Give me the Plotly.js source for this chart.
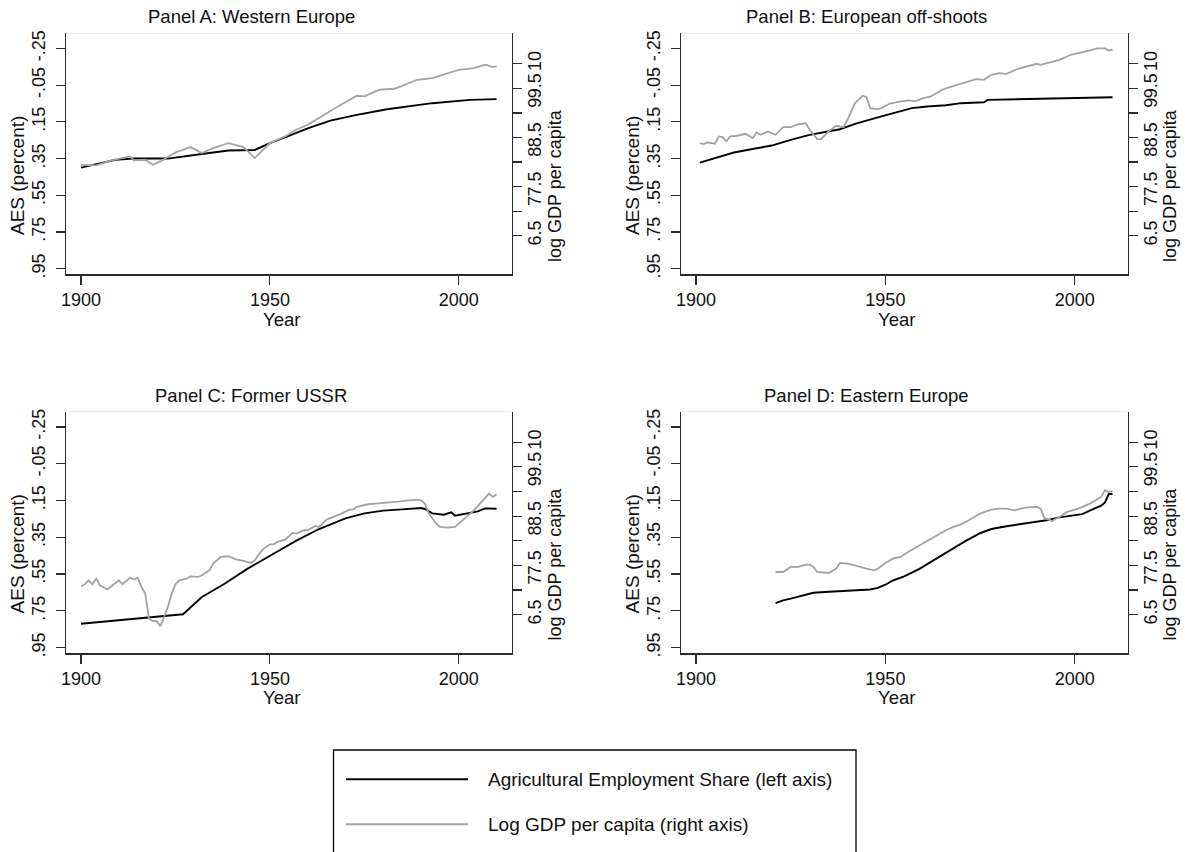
<!DOCTYPE html>
<html><head><meta charset="utf-8">
<script src="https://cdn.plot.ly/plotly-3.0.1.min.js"></script>
<style>html,body{margin:0;padding:0;background:#fff}#chart{width:1185px;height:852px}</style>
</head><body><div id="chart"></div>
<script>
// ---------- data ----------
const panelTitles = ["Panel A: Western Europe","Panel B: European off-shoots","Panel C: Former USSR","Panel D: Eastern Europe"];
const xTickVals = [1900,1950,2000];
const aesTickVals = [-0.25,-0.05,0.15,0.35,0.55,0.75,0.95];
const aesTickText = ["-.25","-.05",".15",".35",".55",".75",".95"];
const gdpTickVals = [6.5,7,7.5,8,8.5,9,9.5,10];
const gdpTickText = ["6.5","7","7.5","8","8.5","9","9.5","10"];
const legendLabels = ["Agricultural Employment Share (left axis)","Log GDP per capita (right axis)"];

// Panel A: Western Europe
const aYearsAES = [1900,1904,1909,1914,1923,1932,1939,1946,1950,1955,1960,1966,1973,1981,1993,2003,2010];
const aAES = [0.399,0.379,0.357,0.350,0.350,0.325,0.306,0.303,0.266,0.226,0.185,0.143,0.112,0.081,0.048,0.030,0.026];
const aYearsGDP = [1900,1904,1908,1913,1914,1917,1919,1921,1925,1929,1932,1935,1939,1943,1946,1950,1954,1957,1960,1965,1968,1973,1975,1979,1983,1989,1993,2000,2004,2007,2009,2010];
const aGDP = [7.944,7.931,8.033,8.114,8.033,8.046,7.944,8.012,8.195,8.304,8.182,8.284,8.385,8.304,8.080,8.385,8.521,8.657,8.758,8.996,9.132,9.349,9.335,9.471,9.491,9.674,9.708,9.878,9.912,9.980,9.932,9.946];

// Panel B: European off-shoots
const bYearsAES = [1901,1910,1916,1920,1925,1930,1938,1942,1948,1952,1957,1961,1966,1970,1976,1977,1983,1988,1993,1998,2003,2010];
const bAES = [0.372,0.317,0.294,0.279,0.248,0.221,0.190,0.161,0.125,0.103,0.075,0.066,0.059,0.048,0.043,0.030,0.028,0.026,0.025,0.020,0.018,0.016];
const bYearsGDP = [1901,1902,1903,1905,1906,1907,1908,1909,1911,1913,1915,1916,1917,1919,1921,1923,1925,1927,1928,1929,1930,1932,1933,1935,1937,1939,1940,1942,1944,1945,1946,1948,1949,1951,1953,1955,1956,1958,1960,1962,1965,1967,1970,1972,1974,1976,1978,1980,1982,1985,1988,1990,1991,1994,1996,1999,2002,2004,2006,2008,2009,2010];
const bGDP = [8.385,8.365,8.399,8.372,8.521,8.507,8.419,8.521,8.535,8.575,8.487,8.602,8.555,8.623,8.555,8.711,8.711,8.772,8.779,8.792,8.657,8.467,8.467,8.623,8.738,8.711,8.860,9.199,9.349,9.322,9.098,9.077,9.098,9.186,9.220,9.247,9.254,9.240,9.301,9.335,9.471,9.525,9.593,9.627,9.688,9.674,9.776,9.810,9.796,9.898,9.959,10.000,9.980,10.034,10.081,10.183,10.231,10.271,10.312,10.312,10.271,10.285];

// Panel C: Former USSR
const cYearsAES = [1900,1909,1919,1927,1932,1938,1944,1951,1957,1963,1970,1975,1980,1985,1990,1991,1993,1996,1998,1999,2002,2005,2007,2010];
const cAES = [0.820,0.802,0.784,0.769,0.675,0.603,0.522,0.440,0.368,0.305,0.247,0.220,0.205,0.198,0.191,0.196,0.220,0.227,0.214,0.233,0.220,0.209,0.193,0.195];
const cYearsGDP = [1900,1901,1902,1903,1904,1905,1907,1909,1910,1911,1913,1914,1915,1916,1917,1918,1919,1920,1921,1922,1923,1924,1925,1926,1928,1929,1931,1932,1934,1935,1937,1939,1940,1941,1943,1945,1946,1948,1950,1951,1952,1954,1956,1957,1959,1960,1962,1963,1965,1967,1969,1971,1972,1973,1975,1976,1978,1981,1984,1986,1989,1990,1991,1992,1994,1995,1997,1999,2000,2002,2004,2006,2008,2009,2010];
const cGDP = [7.075,7.116,7.197,7.116,7.231,7.095,7.014,7.129,7.197,7.116,7.251,7.211,7.251,7.062,6.926,6.418,6.371,6.371,6.263,6.452,6.655,6.926,7.116,7.197,7.231,7.278,7.265,7.299,7.400,7.536,7.671,7.685,7.657,7.624,7.590,7.549,7.603,7.820,7.928,7.928,7.976,8.023,8.158,8.145,8.213,8.213,8.301,8.280,8.429,8.483,8.551,8.632,8.632,8.687,8.720,8.741,8.754,8.768,8.795,8.815,8.835,8.822,8.754,8.565,8.348,8.280,8.267,8.280,8.348,8.470,8.619,8.788,8.957,8.890,8.944];

// Panel D: Eastern Europe
const dYearsAES = [1921,1923,1925,1928,1931,1934,1938,1942,1946,1948,1950,1952,1955,1959,1963,1967,1971,1975,1978,1982,1985,1989,1991,1993,1996,1999,2002,2005,2007,2008,2009,2010];
const dAES = [0.708,0.693,0.684,0.666,0.652,0.648,0.643,0.639,0.634,0.625,0.608,0.585,0.563,0.522,0.471,0.422,0.372,0.328,0.305,0.290,0.281,0.269,0.260,0.256,0.242,0.233,0.224,0.196,0.178,0.160,0.115,0.115];
const dYearsGDP = [1921,1923,1924,1925,1927,1929,1930,1931,1932,1934,1935,1937,1938,1940,1942,1945,1947,1948,1950,1952,1954,1956,1958,1960,1962,1964,1966,1968,1970,1972,1975,1978,1980,1982,1984,1987,1990,1991,1992,1994,1996,1998,2001,2004,2007,2008,2009,2010];
const dGDP = [7.366,7.366,7.414,7.468,7.468,7.515,7.515,7.468,7.366,7.353,7.346,7.434,7.549,7.536,7.502,7.434,7.400,7.434,7.549,7.637,7.671,7.773,7.861,7.942,8.023,8.111,8.213,8.280,8.334,8.416,8.551,8.632,8.653,8.653,8.619,8.673,8.687,8.653,8.463,8.402,8.483,8.585,8.653,8.754,8.890,9.025,8.991,9.005];

// ---------- layout ----------
const W = 1185, H = 852;
const fx = x => x / W;
const fy = y => 1 - y / H;
const FONT = "Arial, 'Liberation Sans', Helvetica, sans-serif";
const AXC = "#2b2b2b";
const BLACK = "#000000";
const GRAY = "#a2a2a2";
const FS = 18;
const NB = "\u00A0";
// vertical labels are end-aligned in the reference: pad single-digit labels at their start
const gdpTickShown = gdpTickText.map(t => (t.length === 1 ? NB.repeat(3) : "") + t);

const colX = [[66, 511.7], [681, 1127.7]];
const rowY = [[33.3, 274.3], [411.7, 653.3]];
const series = [
  [aYearsAES, aAES, aYearsGDP, aGDP],
  [bYearsAES, bAES, bYearsGDP, bGDP],
  [cYearsAES, cAES, cYearsGDP, cGDP],
  [dYearsAES, dAES, dYearsGDP, dGDP]
];

const traces = [];
const layout = {
  width: W, height: H,
  margin: {l: 0, r: 0, t: 0, b: 0},
  paper_bgcolor: "#fff", plot_bgcolor: "#fff",
  showlegend: false,
  font: {family: FONT, size: FS, color: "#111"},
  shapes: [], annotations: []
};

series.forEach((s, i) => {
  const col = i % 2, row = Math.floor(i / 2);
  const xn = i + 1, yl = 2 * i + 1, yr = 2 * i + 2;
  const xd = [fx(colX[col][0]), fx(colX[col][1])];
  const yd = [fy(rowY[row][1]), fy(rowY[row][0])];
  const common = {
    showgrid: false, zeroline: false, showline: true, linecolor: AXC, linewidth: 1.2,
    ticks: "outside", ticklen: 9, tickwidth: 1.2, tickcolor: AXC,
    tickfont: {family: FONT, size: FS, color: "#111"}, fixedrange: true
  };
  layout["xaxis" + xn] = Object.assign({}, common, {
    domain: xd, anchor: "y" + yl, range: [1896.03, 2014.0],
    tickmode: "array", tickvals: xTickVals, ticktext: xTickVals.map(String)
  });
  layout["yaxis" + yl] = Object.assign({}, common, {
    domain: yd, anchor: "x" + xn, side: "left", range: [0.981, -0.333],
    tickmode: "array", tickvals: aesTickVals, ticktext: aesTickText, tickangle: -90,
    ticklabelstandoff: 4
  });
  layout["yaxis" + yr] = Object.assign({}, common, {
    anchor: "x" + xn, overlaying: "y" + yl, side: "right", range: [5.715, 10.62],
    tickmode: "array", tickvals: gdpTickVals, ticktext: gdpTickShown, tickangle: -90,
    ticklabelstandoff: -3
  });
  traces.push({
    type: "scatter", mode: "lines", x: s[0], y: s[1],
    xaxis: "x" + xn, yaxis: "y" + yl, line: {color: BLACK, width: 1.9},
    name: legendLabels[0], hoverinfo: "skip"
  });
  traces.push({
    type: "scatter", mode: "lines", x: s[2], y: s[3],
    xaxis: "x" + xn, yaxis: "y" + yr, line: {color: GRAY, width: 1.8},
    name: legendLabels[1], hoverinfo: "skip"
  });
  // faint top border of plot region
  layout.shapes.push({type: "line", xref: "paper", yref: "paper",
    x0: xd[0], x1: xd[1], y0: yd[1], y1: yd[1], line: {color: "#e4ebeb", width: 1}});

  const dx = col * 615, dy = row * 378.4;
  layout.annotations.push(
    {text: panelTitles[i], xref: "paper", yref: "paper", x: fx(251 + dx), y: fy(16.7 + dy),
     xanchor: "center", yanchor: "middle", showarrow: false, font: {size: 18.5, color: "#111"}},
    {text: "Year", xref: "paper", yref: "paper", x: fx(281 + dx), y: fy(319.3 + dy),
     xanchor: "center", yanchor: "middle", showarrow: false, font: {size: 18.5, color: "#111"}},
    {text: "AES (percent)", xref: "paper", yref: "paper", x: fx(17 + dx), y: fy(176 + dy),
     xanchor: "center", yanchor: "middle", textangle: -90, showarrow: false, font: {size: 19, color: "#111"}},
    {text: "log GDP per capita", xref: "paper", yref: "paper", x: fx(555 + dx), y: fy(186 + dy),
     xanchor: "center", yanchor: "middle", textangle: -90, showarrow: false, font: {size: 18, color: "#111"}}
  );
});

// legend box (drawn by hand to match the reference's long sample lines)
layout.shapes.push(
  {type: "rect", xref: "paper", yref: "paper", x0: fx(333.5), x1: fx(856), y0: fy(750), y1: fy(870),
   line: {color: "#000", width: 1.3}, fillcolor: "rgba(0,0,0,0)"},
  {type: "line", xref: "paper", yref: "paper", x0: fx(346), x1: fx(468), y0: fy(779.3), y1: fy(779.3),
   line: {color: BLACK, width: 2}},
  {type: "line", xref: "paper", yref: "paper", x0: fx(346), x1: fx(468), y0: fy(824.3), y1: fy(824.3),
   line: {color: GRAY, width: 2}}
);
layout.annotations.push(
  {text: legendLabels[0], xref: "paper", yref: "paper", x: fx(486), y: fy(779.3),
   xanchor: "left", yanchor: "middle", showarrow: false, font: {size: 19, color: "#111"}},
  {text: legendLabels[1], xref: "paper", yref: "paper", x: fx(486), y: fy(824.3),
   xanchor: "left", yanchor: "middle", showarrow: false, font: {size: 19, color: "#111"}}
);

Plotly.newPlot("chart", traces, layout, {staticPlot: true, displayModeBar: false});
</script>
</body></html>
